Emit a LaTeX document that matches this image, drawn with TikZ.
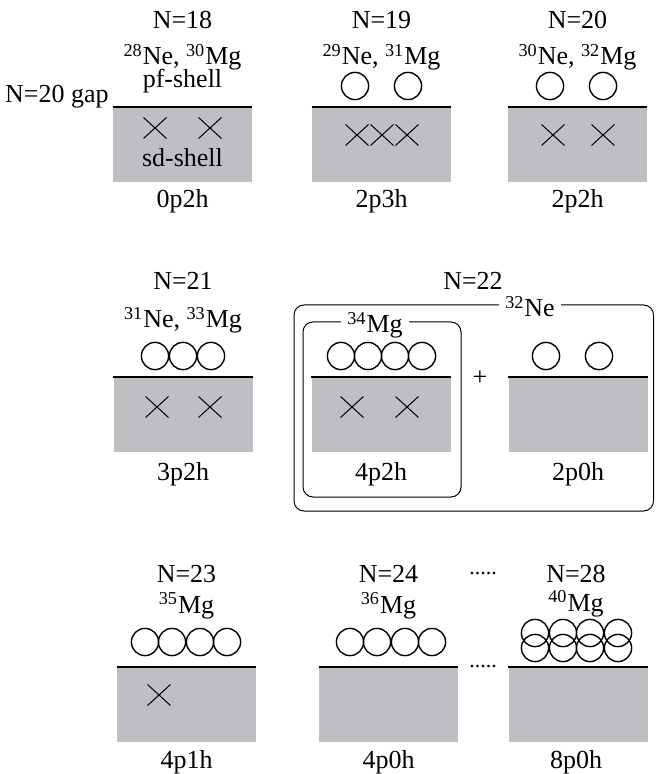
\documentclass[tikz,border=0pt]{standalone}
\usepackage{fontspec}
\setmainfont{Liberation Serif}
\usepackage{xcolor}
\usetikzlibrary{shapes.misc}
\definecolor{shellgrey}{RGB}{190,191,195}
\tikzset{
	shell/.style={fill=shellgrey, draw=none, minimum width=69.5pt, minimum height=37.5pt, inner sep=0pt, anchor=north},
	gapline/.style={draw, line width=0.9pt},
	part/.style={circle, draw, line width=0.7pt, minimum size=13.6pt, inner sep=0pt},
	hole/.style={cross out, draw, line width=0.5pt, minimum width=11pt, minimum height=10pt, inner sep=0pt},
	lab/.style={anchor=base, inner sep=0pt},
	frame/.style={draw, line width=0.5pt, rounded corners=5pt},
	tag/.style={anchor=base, fill=white, inner sep=3pt}
}

\begin{document}
\begin{tikzpicture}[x=0.5pt, y=-0.5pt, every node/.style={font=\rmfamily\fontsize{13}{15}\selectfont}]
  \useasboundingbox (0,0) rectangle (655,774);

  % Shells
  \node[shell] (s18)  at (182.5,107) {};
  \node[shell] (s19)  at (381.5,107) {};
  \node[shell] (s20)  at (577.5,107) {};
  \node[shell] (s21)  at (183,377)   {};
  \node[shell] (s22a) at (381,377)   {};
  \node[shell] (s22b) at (578,377)   {};
  \node[shell] (s23)  at (186.5,667) {};
  \node[shell] (s24)  at (388.5,667) {};
  \node[shell] (s28)  at (578,667)   {};

  % Gaps
  \draw[gapline] (s18.north west) -- (s18.north east);
  \draw[gapline] (s19.north west) -- (s19.north east);
  \draw[gapline] (s20.north west) -- (s20.north east);
  \draw[gapline] (s21.north west) -- (s21.north east);
  \draw[gapline] (s22a.north west) -- (s22a.north east);
  \draw[gapline] (s22b.north west) -- (s22b.north east);
  \draw[gapline] (s23.north west) -- (s23.north east);
  \draw[gapline] (s24.north west) -- (s24.north east);
  \draw[gapline] (s28.north west) -- (s28.north east);

  % Frames for N=22
  \draw[frame] (294,305) rectangle (653.5,511);
  \draw[frame] (303,322) rectangle (461,497);
  \node[tag] (Ne32) at (530,317) {\textsuperscript{32}Ne};
  \node[tag] (Mg34) at (375,333) {\textsuperscript{34}Mg};

  % Labels, first row
  \node[lab] (N18)   at (182.5,29)  {N=18};
  \node[lab] (iso18) at (182.5,65)  {\textsuperscript{28}Ne, \textsuperscript{30}Mg};
  \node[lab] (pf)    at (182.5,88)  {pf-shell};
  \node[lab] (sd)    at (182.5,167) {sd-shell};
  \node[lab] (c18)   at (182.5,208) {0p2h};
  \node[lab, anchor=base east] (gap) at (109,103) {N=20 gap};
  \node[lab] (N19)   at (381.5,29)  {N=19};
  \node[lab] (iso19) at (381.5,65)  {\textsuperscript{29}Ne, \textsuperscript{31}Mg};
  \node[lab] (c19)   at (381.5,208) {2p3h};
  \node[lab] (N20)   at (577.5,29)  {N=20};
  \node[lab] (iso20) at (577.5,65)  {\textsuperscript{30}Ne, \textsuperscript{32}Mg};
  \node[lab] (c20)   at (577.5,208) {2p2h};

  % Labels, second row
  \node[lab] (N21)   at (183,290) {N=21};
  \node[lab] (iso21) at (183,328) {\textsuperscript{31}Ne, \textsuperscript{33}Mg};
  \node[lab] (c21)   at (183,480) {3p2h};
  \node[lab] (N22)   at (473,290) {N=22};
  \node[lab] (c22a)  at (381,480) {4p2h};
  \node[lab] (c22b)  at (578,480) {2p0h};
  \node (plus) at (480,378) {+};

  % Labels, third row
  \node[lab] (N23)   at (186.5,582) {N=23};
  \node[lab] (iso23) at (186.5,613) {\textsuperscript{35}Mg};
  \node[lab] (c23)   at (186.5,768) {4p1h};
  \node[lab] (N24)   at (388.5,582) {N=24};
  \node[lab] (iso24) at (388.5,613) {\textsuperscript{36}Mg};
  \node[lab] (c24)   at (388.5,768) {4p0h};
  \node[lab] (N28)   at (576,582)   {N=28};
  \node[lab] (iso28) at (576,611)   {\textsuperscript{40}Mg};
  \node[lab] (c28)   at (576,768)   {8p0h};
  \node[lab, font=\rmfamily\fontsize{11}{11}\selectfont] (dotsA) at (483,574.5) {.....};
  \node[lab, font=\rmfamily\fontsize{11}{11}\selectfont] (dotsB) at (483,667.5) {.....};

  % Particles
  \node[part] (p19a) at (355,86) {}; \node[part] (p19b) at (408,86) {};
  \node[part] (p20a) at (550,86) {}; \node[part] (p20b) at (603,86) {};
  \node[part] (p21a) at (155,356) {}; \node[part] (p21b) at (183,356) {};
  \node[part] (p21c) at (211,356) {};
  \node[part] (p22a) at (341,356) {}; \node[part] (p22b) at (368,356) {};
  \node[part] (p22c) at (395,356) {}; \node[part] (p22d) at (422,356) {};
  \node[part] (p22e) at (546,356) {}; \node[part] (p22f) at (599,356) {};
  \node[part] (p23a) at (145,642) {}; \node[part] (p23b) at (172,642) {};
  \node[part] (p23c) at (200,642) {}; \node[part] (p23d) at (227,642) {};
  \node[part] (p24a) at (350,642) {}; \node[part] (p24b) at (377,642) {};
  \node[part] (p24c) at (405,642) {}; \node[part] (p24d) at (432,642) {};
  \node[part] (p28a) at (535,648) {}; \node[part] (p28b) at (563,648) {};
  \node[part] (p28c) at (590,648) {}; \node[part] (p28d) at (618,648) {};
  \node[part] (p28e) at (535,633) {}; \node[part] (p28f) at (563,633) {};
  \node[part] (p28g) at (590,633) {}; \node[part] (p28h) at (618,633) {};

  % Holes
  \node[hole] (h18a) at (155,128) {}; \node[hole] (h18b) at (210,128) {};
  \node[hole] (h19a) at (357,135) {}; \node[hole] (h19b) at (382,135) {};
  \node[hole] (h19c) at (407,135) {};
  \node[hole] (h20a) at (553,135) {}; \node[hole] (h20b) at (603,135) {};
  \node[hole] (h21a) at (157,407) {}; \node[hole] (h21b) at (210,407) {};
  \node[hole] (h22a) at (352,407) {}; \node[hole] (h22b) at (407,407) {};
  \node[hole] (h23a) at (159,695) {};
\end{tikzpicture}
\end{document}
